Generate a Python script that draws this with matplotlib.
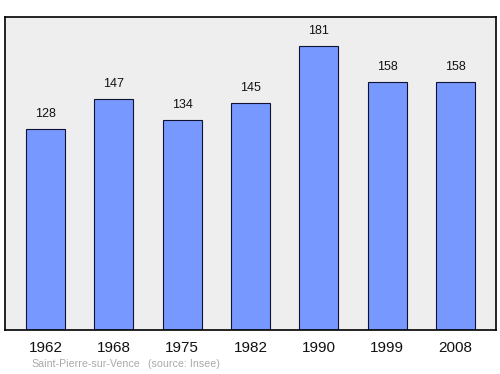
import matplotlib
matplotlib.use("Agg")
import matplotlib.pyplot as plt

years = ["1962", "1968", "1975", "1982", "1990", "1999", "2008"]
population = [128, 147, 134, 145, 181, 158, 158]
commune = "Saint-Pierre-sur-Vence"
source = "(source: Insee)"

plt.rcParams['font.family'] = ['Liberation Sans', 'DejaVu Sans']

fig = plt.figure(figsize=(5, 3.74), dpi=100)
ax = fig.add_axes([0.01, 44/374, 0.982, 313/374])
ax.set_facecolor("#eeeeee")
x = list(range(len(years)))
ax.bar(x, population, width=0.57, color="#7799ff", edgecolor="#111133", linewidth=0.8)
for xi, v in zip(x, population):
    ax.text(xi, v + 9.5, str(v), ha="center", va="center", fontsize=9, color="#111111")
ax.set_xlim(-0.593, len(years) - 1 + 0.593)
ax.set_ylim(0, 199.5)
ax.set_xticks(x)
ax.set_xticklabels(years, fontsize=11, color="#111111")
ax.tick_params(axis="x", length=0, pad=8)
ax.set_yticks([])
for s in ax.spines.values():
    s.set_linewidth(1.2)
fig.text(31/500, 1 - 364/374, commune, ha="left", va="center", fontsize=7.7, color="#aaaaaa")
fig.text(148/500, 1 - 364/374, source, ha="left", va="center", fontsize=7.7, color="#aaaaaa")
fig.savefig("out.png", dpi=100)
